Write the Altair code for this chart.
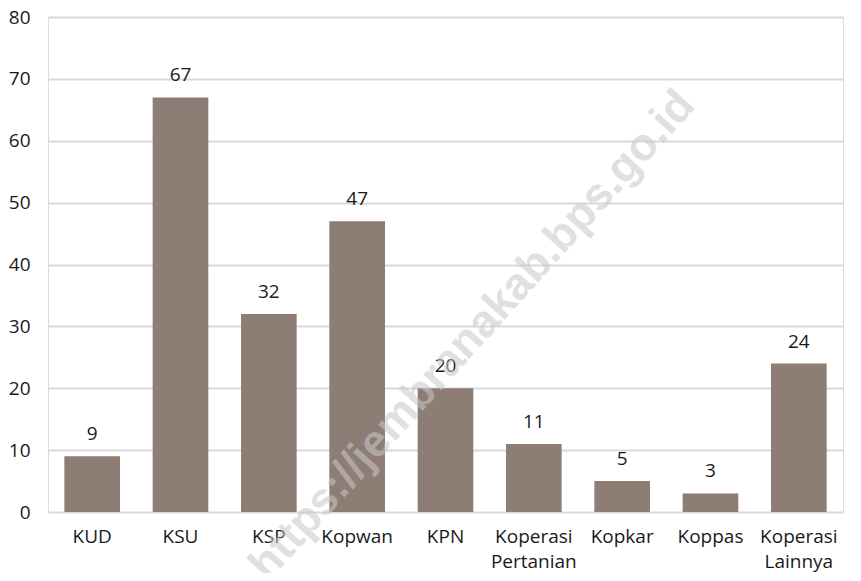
import altair as alt
import pandas as pd

categories = ["KUD", "KSU", "KSP", "Kopwan", "KPN", "Koperasi Pertanian", "Kopkar", "Koppas", "Koperasi Lainnya"]
values = [9, 67, 32, 47, 20, 11, 5, 3, 24]

df = pd.DataFrame({"cat": categories, "val": values})

FONT = "Open Sans"

x = alt.X("cat:N", sort=categories, title=None,
          scale=alt.Scale(paddingInner=0.37, paddingOuter=0.185),
          axis=alt.Axis(labelExpr="split(datum.label, ' ')", labelFont=FONT, labelFontSize=19,
                        labelColor="#1a1a1a", labelAngle=0, labelPadding=15, ticks=False,
                        domain=False, labelLineHeight=25))
y = alt.Y("val:Q", title=None,
          scale=alt.Scale(domain=[0, 80]),
          axis=alt.Axis(values=[0, 10, 20, 30, 40, 50, 60, 70, 80], labelFont=FONT, labelFontSize=19,
                        labelColor="#1a1a1a", ticks=False, domain=False, gridColor="#d9d9d9",
                        gridWidth=2, labelPadding=18))

bars = alt.Chart(df).mark_bar(color="#8d7d75").encode(x=x, y=y)

labels = alt.Chart(df).mark_text(dy=-22, font=FONT, fontSize=19, color="#1a1a1a").encode(
    x=alt.X("cat:N", sort=categories), y="val:Q", text="val:Q")

wm = alt.Chart(pd.DataFrame({"t": ["https://jembranakab.bps.go.id"]})).mark_text(
    font="Liberation Sans", fontWeight="bold", fontSize=45, angle=312, color="#c8c8c8",
    opacity=0.55, align="center", baseline="middle").encode(
    x=alt.value(424), y=alt.value(318), text="t:N")

chart = (bars + labels + wm).properties(
    width=795, height=495,
    autosize=alt.AutoSizeParams(type="none"),
    padding={"left": 40, "top": 9, "right": 2, "bottom": 61},
).configure_view(stroke=None).configure(background="white")

chart.save("out.html", embed_options={"renderer": "svg", "actions": False})
